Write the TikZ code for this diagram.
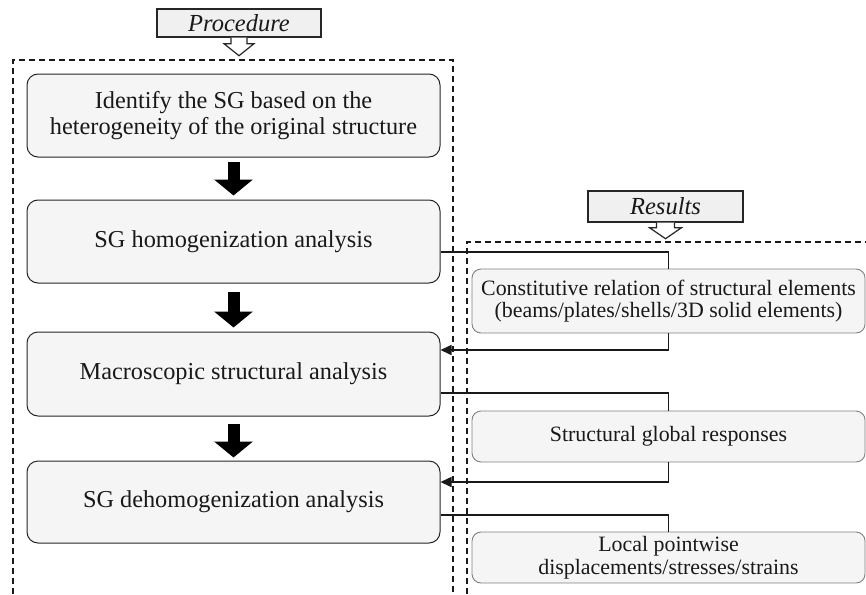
\documentclass[tikz,border=0pt]{standalone}
\usepackage{fontspec}
\setmainfont{Liberation Serif}
\usetikzlibrary{arrows.meta,calc}
\begin{document}
\begin{tikzpicture}[x=1pt,y=-1pt,
  procbox/.style={draw=black!85, line width=1pt, rounded corners=11pt, fill=black!4,
    align=center, inner sep=0pt, minimum width=413pt, text=black!90,
    font=\fontsize{24.3}{26.5}\selectfont},
  resbox/.style={draw=black!50, line width=0.9pt, rounded corners=9pt, fill=black!4,
    align=center, inner sep=0pt, minimum width=393pt, text=black!90,
    font=\fontsize{21.9}{22.5}\selectfont},
  tagbox/.style={draw=black!85, line width=1.4pt, fill=black!6, inner sep=0pt,
    font=\fontsize{24.5}{26}\selectfont\itshape, text=black!90},
  bigarrow/.style={line width=12pt, draw=black, -{Triangle[width=38pt,length=16pt]}},
  link/.style={draw=black!90, line width=1.6pt},
  linkarrow/.style={link, -{Triangle[length=11pt,width=10pt]}},
  frame/.style={draw=black!90, line width=1.3pt, dash pattern=on 6pt off 4pt},
]
\useasboundingbox (0,0) rectangle (866,594);

% dashed frames
\draw[frame] (13,594) -- (13,60) -- (453,60) -- (453,594);
\draw[frame] (467,594) -- (467,242) -- (866,242);

% procedure boxes
\node[procbox, minimum height=83pt] (b1) at (233.5,115.5)
  {Identify the SG based on the\\heterogeneity of the original structure};
\node[procbox, minimum height=83pt] (b2) at (233.5,241.5) {SG homogenization analysis};
\node[procbox, minimum height=84pt] (b3) at (233.5,374) {Macroscopic structural analysis};
\node[procbox, minimum height=82pt] (b4) at (233.5,502) {SG dehomogenization analysis};

% result boxes
\node[resbox, minimum height=64pt] (r1) at (668.5,301)
  {Constitutive relation of structural elements\\(beams/plates/shells/3D solid elements)};
\node[resbox, minimum height=51pt] (r2) at (668.5,436.5) {Structural global responses};
\node[resbox, minimum height=51pt] (r3) at (668.5,557.5)
  {Local pointwise\\displacements/stresses/strains};

% tags
\node[tagbox, minimum width=164pt, minimum height=28pt] (proc) at (239,23) {Procedure};
\node[tagbox, minimum width=155pt, minimum height=31pt] (res) at (665.5,206.5) {Results};
\draw[black!85, line width=1.2pt, fill=white]
  ($(proc.south)+(-8,0)$) -- ++(0,6) -- ++(-7,0) -- ++(15,12) -- ++(15,-12) -- ++(-7,0) -- ++(0,-6);
\draw[black!85, line width=1.2pt, fill=white]
  ($(res.south)+(-9,0)$) -- ++(0,5) -- ++(-7,0) -- ++(16,11) -- ++(16,-11) -- ++(-7,0) -- ++(0,-5);

% big arrows
\draw[bigarrow] ($(b1.south)+(0,4)$) -- ($(b2.north)+(0,-4)$);
\draw[bigarrow] ($(b2.south)+(0,8)$) -- ($(b3.north)+(0,-4)$);
\draw[bigarrow] ($(b3.south)+(0,7)$) -- ($(b4.north)+(0,-3)$);

% connectors
\draw[link] ($(b2.east)+(0,10.5)$) -| (r1.north);
\draw[linkarrow] (r1.south) |- ($(b3.east)+(0,-24)$);
\draw[link] ($(b3.east)+(0,19)$) -| (r2.north);
\draw[linkarrow] (r2.south) |- ($(b4.east)+(0,-20)$);
\draw[link] ($(b4.east)+(0,13)$) -| (r3.north);
\end{tikzpicture}
\end{document}
